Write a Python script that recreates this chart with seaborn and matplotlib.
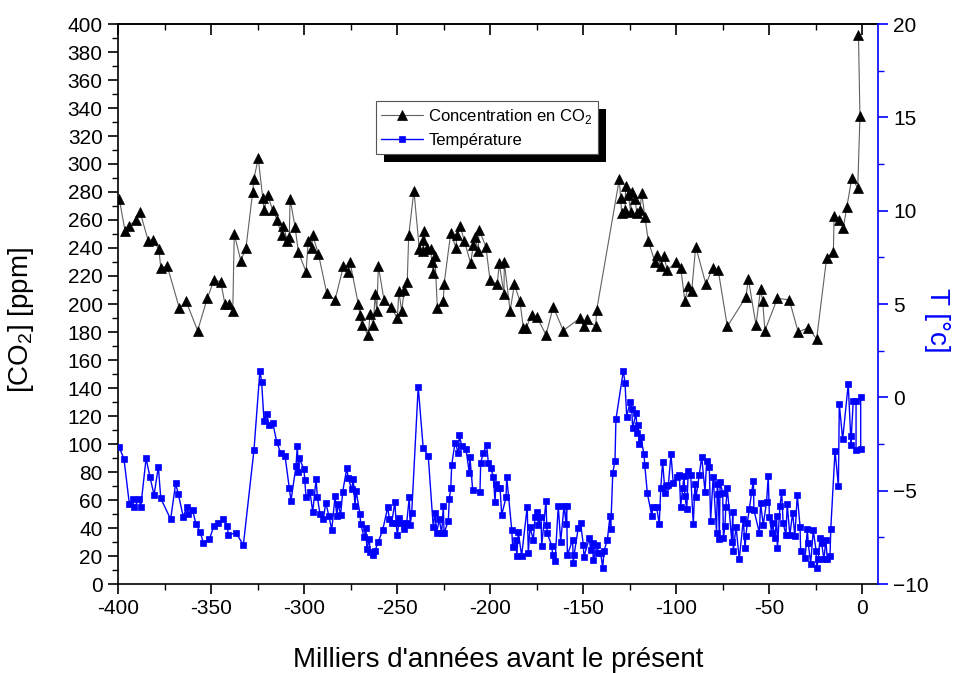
import matplotlib
matplotlib.use("Agg")
import matplotlib.pyplot as plt
import seaborn as sns
from matplotlib.patches import Rectangle
from matplotlib.transforms import IdentityTransform
from matplotlib.ticker import MultipleLocator

sns.set_style("ticks")
plt.rcParams['font.family'] = ['Liberation Sans', 'DejaVu Sans']
plt.rcParams['mathtext.fontset'] = 'custom'
plt.rcParams['mathtext.rm'] = 'Liberation Sans'
for key in ['text.color', 'axes.labelcolor', 'xtick.color', 'ytick.color', 'axes.edgecolor']:
    plt.rcParams[key] = 'black'

# Vostok ice core: CO2 concentration (ppm) vs. age (thousands of years before present)
co2_age = [-399.3, -396.2, -394.1, -390.3, -388.2, -383.7, -381.3, -378.0, -377.0, -373.5,
           -367.0, -363.4, -357.2, -352.0, -348.4, -344.8, -342.5, -340.2, -338.3, -337.5,
           -334.0, -331.2, -327.6, -327.0, -324.6, -322.2, -321.5, -319.6, -316.8, -314.4,
           -312.0, -311.1, -309.0, -307.9, -307.5, -304.8, -303.0, -298.9, -297.7, -295.9,
           -295.3, -292.3, -287.8, -283.3, -278.8, -276.2, -275.3, -270.8, -269.9, -269.0,
           -265.4, -264.5, -262.7, -261.8, -260.9, -260.0, -257.0, -253.4, -249.8, -249.0,
           -247.5, -246.1, -244.5, -243.7, -240.9, -238.0, -236.2, -235.9, -235.5, -234.1,
           -231.9, -231.3, -230.5, -229.6, -228.3, -225.1, -224.7, -221.1, -218.3, -217.9,
           -216.1, -213.8, -210.4, -209.0, -208.1, -206.3, -205.9, -202.2, -200.0, -196.1,
           -195.0, -192.5, -192.3, -189.2, -186.9, -183.9, -182.1, -180.6, -177.6, -174.9,
           -169.9, -166.0, -160.6, -151.6, -149.5, -148.0, -143.2, -142.6, -130.5, -129.8,
           -129.2, -127.4, -127.1, -125.6, -124.4, -123.8, -122.0, -121.1, -119.4, -118.4,
           -116.7, -114.9, -111.3, -110.4, -108.2, -106.5, -104.7, -100.0, -97.5, -95.2,
           -93.4, -91.6, -89.4, -83.9, -80.3, -77.3, -72.4, -62.4, -61.1, -57.0,
           -54.5, -53.4, -52.2, -45.5, -39.1, -34.3, -28.9, -24.4, -19.0, -15.4,
           -15.0, -12.2, -10.1, -8.2, -5.5, -2.3, -1.1, -1.9]
co2_ppm = [275, 252, 256, 260, 266, 245, 246, 239, 226, 227,
           197, 202, 181, 204, 217, 216, 200, 200, 195, 250,
           231, 240, 280, 289, 304, 276, 267, 278, 267, 260,
           249, 256, 245, 248, 275, 255, 237, 223, 245, 240,
           249, 236, 208, 203, 227, 223, 230, 200, 192, 185,
           178, 193, 185, 207, 195, 227, 203, 198, 190, 209,
           195, 210, 216, 249, 281, 239, 246, 238, 252, 240,
           239, 230, 222, 234, 197, 202, 214, 251, 240, 249,
           256, 245, 229, 242, 248, 238, 253, 241, 217, 214,
           229, 207, 230, 195, 214, 202, 183, 183, 192, 191,
           178, 198, 181, 190, 184, 189, 184, 196, 289, 276,
           265, 267, 284, 278, 266, 280, 275, 265, 267, 279,
           262, 245, 230, 235, 227, 234, 224, 230, 226, 202,
           213, 209, 241, 214, 226, 224, 184, 205, 218, 185,
           211, 202, 181, 204, 203, 180, 183, 175, 233, 237,
           263, 260, 254, 269, 290, 283, 334, 392]

# Temperature anomaly (deg C) vs. age
temp_age = [-399.3, -396.8, -393.9, -392.1, -391.4, -388.5, -387.8, -384.9, -382.8, -380.6,
            -378.3, -377.0, -371.7, -369.0, -367.6, -364.9, -363.1, -362.2, -359.9, -358.1,
            -355.9, -354.1, -350.9, -348.4, -346.1, -343.4, -341.2, -340.7, -336.6, -332.6,
            -326.9, -323.7, -322.8, -321.5, -320.1, -318.7, -316.8, -314.7, -312.5, -310.2,
            -307.9, -307.0, -304.3, -303.6, -303.0, -302.5, -300.0, -299.6, -298.9, -296.8,
            -295.3, -293.5, -292.8, -291.4, -289.6, -288.3, -286.6, -285.1, -283.3, -282.4,
            -281.6, -280.3, -279.2, -277.0, -276.2, -274.4, -273.5, -272.6, -272.0, -269.9,
            -269.5, -267.7, -266.7, -266.2, -264.9, -264.5, -263.1, -261.8, -260.0, -257.7,
            -255.0, -254.1, -252.9, -251.1, -250.5, -249.8, -248.8, -247.5, -246.2, -244.8,
            -243.4, -242.9, -242.1, -238.6, -235.9, -233.2, -230.5, -229.6, -228.7, -227.3,
            -226.0, -225.1, -224.7, -222.4, -221.9, -221.1, -220.6, -218.8, -217.0, -216.5,
            -215.2, -212.9, -211.1, -210.8, -209.3, -205.4, -205.0, -203.6, -201.8, -200.9,
            -199.6, -198.2, -197.3, -196.8, -195.5, -194.6, -193.7, -191.4, -191.0, -188.3,
            -187.8, -186.0, -185.6, -184.8, -183.0, -180.0, -179.4, -178.5, -176.7, -175.8,
            -174.9, -174.0, -172.6, -172.2, -169.9, -169.5, -169.2, -166.8, -166.3, -165.0,
            -163.3, -162.0, -160.2, -159.1, -158.8, -158.4, -155.6, -155.2, -154.8, -152.6,
            -151.3, -149.8, -149.5, -146.6, -145.9, -144.8, -144.5, -142.3, -141.8, -140.5,
            -139.4, -138.7, -136.9, -135.5, -135.1, -134.0, -132.8, -132.3, -128.3, -127.4,
            -126.5, -124.7, -123.8, -123.3, -121.5, -120.8, -120.3, -119.7, -119.0, -117.2,
            -116.8, -115.4, -113.0, -112.5, -110.4, -109.0, -108.2, -107.2, -105.9, -105.4,
            -104.1, -102.7, -101.5, -99.6, -98.2, -97.5, -96.4, -95.7, -95.2, -94.2,
            -93.4, -92.1, -90.7, -89.8, -89.2, -87.5, -86.2, -84.4, -83.5, -82.1,
            -81.4, -80.0, -78.2, -77.8, -77.3, -76.7, -76.3, -74.9, -74.5, -73.7,
            -73.2, -72.4, -70.0, -69.5, -69.2, -67.7, -66.0, -63.8, -62.9, -62.4,
            -61.7, -60.6, -59.3, -58.4, -58.1, -55.2, -54.5, -53.1, -51.3, -50.4,
            -49.8, -48.6, -48.1, -46.8, -45.9, -45.5, -44.1, -43.2, -42.4, -40.9,
            -40.2, -38.8, -37.3, -36.1, -34.8, -33.3, -33.0, -30.6, -29.4, -28.9,
            -27.6, -26.2, -24.7, -24.4, -23.5, -22.6, -21.7, -20.5, -19.4, -18.7,
            -17.2, -16.8, -14.5, -12.7, -12.2, -10.4, -7.4, -6.1, -6.0, -4.7,
            -3.2, -3.2, -0.7, -0.7]
temp_dev = [-2.68, -3.30, -5.71, -5.46, -5.89, -5.46, -5.89, -3.27, -4.28, -5.23,
            -3.72, -5.41, -6.53, -4.61, -5.18, -6.40, -5.89, -6.25, -6.04, -6.79,
            -7.20, -7.79, -7.61, -6.88, -6.72, -6.53, -6.89, -7.38, -7.25, -7.91,
            -2.82, 1.43, 0.84, -1.25, -0.89, -1.48, -1.36, -2.38, -3.00, -3.14,
            -4.87, -5.54, -3.68, -2.61, -3.98, -3.27, -3.86, -4.43, -5.36, -5.06,
            -6.13, -4.39, -5.36, -6.25, -6.53, -5.64, -6.36, -7.11, -5.29, -6.36,
            -5.71, -6.30, -5.06, -3.80, -4.34, -4.93, -4.39, -5.82, -5.00, -6.25,
            -6.79, -7.50, -7.02, -8.14, -7.61, -8.27, -8.45, -8.21, -7.73, -7.11,
            -5.89, -6.53, -6.75, -5.59, -6.75, -7.38, -6.48, -6.75, -7.07, -6.72,
            -5.36, -6.84, -6.21, 0.57, -2.73, -3.14, -6.96, -6.18, -7.29, -6.53,
            -7.29, -5.82, -7.29, -6.61, -5.46, -4.87, -3.63, -2.43, -2.97, -2.02,
            -2.61, -2.79, -4.07, -3.21, -4.96, -5.06, -3.50, -2.97, -2.55, -3.50,
            -3.80, -4.25, -5.59, -4.64, -4.87, -4.87, -6.30, -5.36, -4.28, -7.11,
            -8.04, -7.64, -8.50, -7.20, -8.50, -5.86, -8.32, -6.96, -7.64, -6.40,
            -6.13, -6.84, -6.40, -7.96, -5.54, -6.84, -7.29, -7.96, -8.45, -8.75,
            -5.82, -7.73, -5.82, -6.79, -5.82, -8.45, -7.64, -8.86, -8.45, -7.02,
            -6.75, -7.91, -8.54, -7.55, -8.18, -7.82, -8.71, -7.91, -8.36, -8.32,
            -9.16, -8.21, -7.64, -6.36, -7.07, -4.07, -3.39, -1.18, 1.43, 0.75,
            -1.04, -0.23, -0.64, -1.66, -0.85, -1.89, -1.48, -2.50, -2.14, -3.04,
            -3.63, -5.14, -6.36, -5.89, -5.89, -6.79, -4.87, -3.45, -5.11, -4.75,
            -4.70, -3.04, -4.57, -4.28, -4.16, -5.86, -4.87, -4.21, -5.29, -6.00,
            -3.93, -4.16, -6.79, -4.64, -5.32, -4.16, -3.18, -5.06, -3.39, -3.75,
            -6.61, -4.25, -7.25, -4.64, -5.18, -7.61, -4.52, -5.14, -7.55, -6.89,
            -5.86, -4.87, -7.73, -6.13, -8.21, -6.93, -8.68, -6.53, -8.09, -7.43,
            -6.75, -6.00, -5.06, -4.46, -6.04, -7.25, -5.68, -6.84, -5.59, -4.21,
            -6.40, -7.25, -6.72, -7.55, -6.36, -8.09, -5.82, -5.06, -6.72, -7.38,
            -5.71, -7.38, -6.18, -7.43, -5.23, -6.93, -8.21, -8.62, -7.07, -7.82,
            -8.93, -7.11, -8.21, -9.16, -8.68, -7.54, -7.82, -8.68, -7.64, -8.68,
            -8.50, -7.07, -2.86, -4.75, -0.36, -2.25, 0.71, -2.07, -2.55, -0.18,
            -0.18, -2.82, -2.79, 0.00]

fig = plt.figure(figsize=(9.74, 6.73), dpi=100)
ax = fig.add_axes([118 / 974, 89 / 673, 760 / 974, 560 / 673])

sns.lineplot(x=co2_age, y=co2_ppm, ax=ax, sort=False, estimator=None,
             color='#606060', linewidth=0.8, marker='^', markersize=7,
             markerfacecolor='black', markeredgecolor='black', markeredgewidth=0.5,
             label='Concentration en CO$_2$', legend=False)

ax2 = ax.twinx()
sns.lineplot(x=temp_age, y=temp_dev, ax=ax2, sort=False, estimator=None,
             color='#0000ff', linewidth=1.0, marker='s', markersize=5,
             markerfacecolor='#0000ff', markeredgecolor='#0000ff', markeredgewidth=0.5,
             label='Température', legend=False)

ax.set_ylim(0, 400)
ax2.set_ylim(-10, 20)

ax.xaxis.set_major_locator(MultipleLocator(50))
ax.xaxis.set_minor_locator(MultipleLocator(25))
ax.yaxis.set_major_locator(MultipleLocator(20))
ax.yaxis.set_minor_locator(MultipleLocator(10))
ax2.yaxis.set_major_locator(MultipleLocator(5))
ax2.yaxis.set_minor_locator(MultipleLocator(2.5))

ax.tick_params(axis='both', which='major', direction='out', length=7, width=1.2,
               labelsize=15, pad=4, colors='black')
ax.tick_params(axis='both', which='minor', direction='out', length=4, width=1.0, colors='black')
ax2.tick_params(axis='y', which='major', direction='out', length=7, width=1.2,
                labelsize=15, pad=4, colors='#0000ff', labelcolor='black')
ax2.tick_params(axis='y', which='minor', direction='out', length=4, width=1.0, colors='#0000ff')

# inward ticks along the top edge
top = ax.secondary_xaxis('top')
top.xaxis.set_major_locator(MultipleLocator(50))
top.xaxis.set_minor_locator(MultipleLocator(25))
top.tick_params(which='major', direction='in', length=8, width=1.2, labeltop=False, colors='black')
top.tick_params(which='minor', direction='in', length=4, width=1.0, colors='black')

ax.set_xticks(range(-400, 1, 50))
ax.set_xticklabels([str(v) for v in range(-400, 1, 50)])
ax.set_xlim(-400, 8.6)

for sp in ['left', 'bottom', 'top']:
    ax.spines[sp].set_linewidth(1.2)
    ax.spines[sp].set_color('black')
ax.spines['right'].set_visible(False)
for sp in ['left', 'bottom', 'top']:
    ax2.spines[sp].set_visible(False)
ax2.spines['right'].set_color('#0000ff')
ax2.spines['right'].set_linewidth(1.2)
top.spines['top'].set_linewidth(1.2)
top.spines['top'].set_color('black')

ax.set_xlabel("Milliers d'années avant le présent", fontsize=20, labelpad=21)
ax.set_ylabel('[CO$_2$] [ppm]', fontsize=20)
ax.yaxis.set_label_coords(-0.108, 0.471)
ax2.set_ylabel('T [°c]', fontsize=20, color='#0000ff', rotation=270, va='center')
ax2.yaxis.set_label_coords(1.078, 0.471)

handles = ax.get_lines()[:1] + ax2.get_lines()[:1]
leg = ax2.legend(handles=handles, labels=['Concentration en CO$_2$', 'Température'],
                 loc='upper left', bbox_to_anchor=(0.339, 0.8625), borderaxespad=0,
                 fontsize=12, frameon=True, fancybox=False, framealpha=1.0,
                 handlelength=2.5, handletextpad=0.3, borderpad=0.35, labelspacing=0.45)
leg.get_frame().set_edgecolor('#555555')
leg.get_frame().set_facecolor('white')
leg.get_frame().set_linewidth(0.8)
leg.set_zorder(10)

# solid offset shadow behind the legend box
fig.canvas.draw()
bb = leg.get_window_extent()
shadow = Rectangle((bb.x0 + 8, bb.y0 - 8), bb.width, bb.height, transform=IdentityTransform(),
                   facecolor='black', edgecolor='none', zorder=9, clip_on=False)
ax2.add_artist(shadow)

fig.savefig('out.png', dpi=100)
